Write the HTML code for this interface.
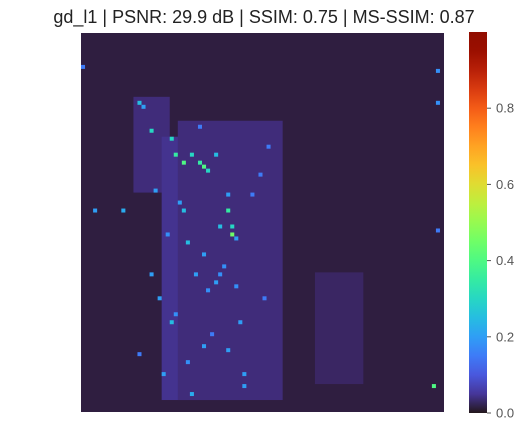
<!DOCTYPE html>
<html><head><meta charset="utf-8"><style>
body{margin:0;background:#fff;width:528px;height:434px;overflow:hidden;font-family:"Liberation Sans","DejaVu Sans",sans-serif}
</style></head><body>
<svg id="chart" width="528" height="434" xmlns="http://www.w3.org/2000/svg">
<defs><linearGradient id="turbo" x1="0" y1="1" x2="0" y2="0"></linearGradient></defs>
<text x="264" y="23" text-anchor="middle" font-size="18" fill="#222">gd_l1 | PSNR: 29.9 dB | SSIM: 0.75 | MS-SSIM: 0.87</text>
<g id="img"></g>
<rect x="469" y="32" width="18" height="381" fill="url(#turbo)"/>
<g id="cbticks"></g>
</svg>
<script>
// heatmap grid: 90 cols x 95 rows, sparse values over a low baseline
const baseValue = 0.012;
// brighter band regions: [col0,row0,col1,row1,value]
const bandCols0 = [13, 20, 24, 58];
const bandRows0 = [16, 26, 22, 60];
const bandCols1 = [22, 40, 50, 70];
const bandRows1 = [40, 92, 92, 88];
const bandVals = [0.035, 0.045, 0.035, 0.025];
// hotspots
const hotCols = [14,15,17,22,23,25,27,29,30,31,33,24,25,36,37,37,38,26,30,34,36,28,31,33,39,22,40,36,17,10,88,0,88,3,88,14,20,27,30,42,35,44,19,23,45,46,26,32,38,18,21,29,34,40,87];
const hotRows = [17,18,24,26,30,32,30,32,33,34,30,42,44,44,48,50,51,52,55,48,40,60,64,62,72,72,88,79,60,44,9,8,17,44,49,80,85,90,78,40,58,35,66,70,66,28,82,75,63,39,50,23,60,85,88];
const hotVals = [0.25,0.2,0.3,0.3,0.35,0.4,0.3,0.35,0.4,0.3,0.25,0.2,0.25,0.35,0.3,0.45,0.2,0.25,0.2,0.25,0.2,0.2,0.18,0.2,0.2,0.25,0.2,0.2,0.2,0.22,0.18,0.15,0.18,0.2,0.15,0.15,0.2,0.22,0.2,0.15,0.18,0.15,0.2,0.18,0.15,0.15,0.18,0.15,0.18,0.2,0.18,0.15,0.18,0.2,0.4];
const tickVals = [0.0, 0.2, 0.4, 0.6, 0.8];
const tickLabels = ["0.0","0.2","0.4","0.6","0.8"];
const NC = 90, NR = 95, X0 = 81, Y0 = 33, W = 363, H = 379;
const vmin = 0, vmax = 1.0, cbTop = 32, cbBot = 413;

function turbo(x){x=Math.max(0,Math.min(1,x));
const r=0.13572138+x*(4.61539260+x*(-42.66032258+x*(132.13108234+x*(-152.94239396+x*59.28637943))));
const g=0.09140261+x*(2.19418839+x*(4.84296658+x*(-14.18503333+x*(4.27729857+x*2.82956604))));
const b=0.10667330+x*(12.64194608+x*(-60.58204836+x*(110.36276771+x*(-89.90310912+x*27.34824973))));
const c=v=>Math.round(Math.max(0,Math.min(1,v))*255);return `rgb(${c(r)},${c(g)},${c(b)})`;}
const xs = c => X0 + c * W / NC, ys = r => Y0 + r * H / NR;
const cbY = v => cbBot - (v - vmin) / (vmax - vmin) * (cbBot - cbTop);
const NS = "http://www.w3.org/2000/svg";
const grad = document.getElementById('turbo');
for (let i = 0; i <= 20; i++) { const s = document.createElementNS(NS,'stop'); s.setAttribute('offset', i/20); s.setAttribute('stop-color', turbo(i/20)); grad.appendChild(s); }
const g = document.getElementById('img');
function cell(c0,r0,c1,r1,v,name){const e=document.createElementNS(NS,'rect');
e.setAttribute('x',xs(c0));e.setAttribute('y',ys(r0));e.setAttribute('width',xs(c1)-xs(c0));e.setAttribute('height',ys(r1)-ys(r0));e.setAttribute('fill',turbo(v));


g.appendChild(e);}
cell(0,0,NC,NR,baseValue,'heatmap-background');
for (let i=0;i<bandVals.length;i++) cell(bandCols0[i],bandRows0[i],bandCols1[i],bandRows1[i],bandVals[i],'heatmap-band');
for (let i=0;i<hotVals.length;i++) cell(hotCols[i],hotRows[i],hotCols[i]+1,hotRows[i]+1,hotVals[i],'heatmap-cell');
const t = document.getElementById('cbticks');
tickVals.forEach((v,i)=>{const y=cbY(v);
const l=document.createElementNS(NS,'line');l.setAttribute('x1',487);l.setAttribute('x2',491);l.setAttribute('y1',y);l.setAttribute('y2',y);l.setAttribute('stroke','#555');


t.appendChild(l);
const tx=document.createElementNS(NS,'text');tx.setAttribute('x',496);tx.setAttribute('y',y+4.5);tx.setAttribute('font-size','13');tx.setAttribute('fill','#555');tx.textContent=tickLabels[i];


t.appendChild(tx);});
</script>
</body></html>
